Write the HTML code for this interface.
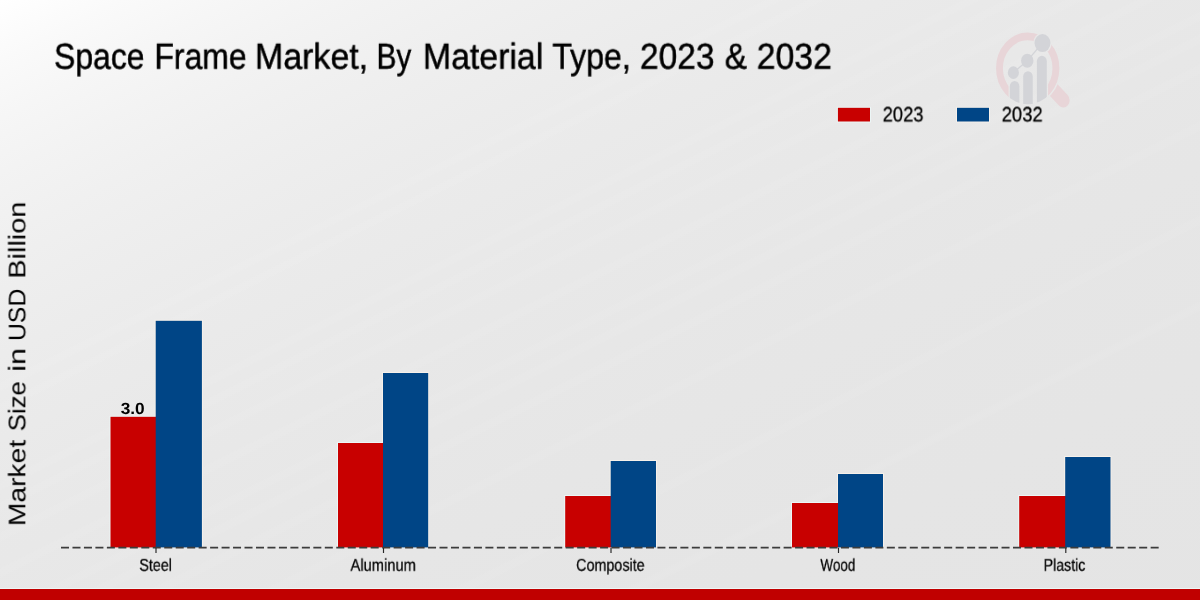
<!DOCTYPE html>
<html lang="en">
<head>
<meta charset="utf-8">
<title>Space Frame Market, By Material Type, 2023 &amp; 2032</title>
<style>
html,body{margin:0;padding:0;}
body{width:1200px;height:600px;overflow:hidden;position:relative;font-family:"Liberation Sans",sans-serif;
background:linear-gradient(to bottom right,rgba(255,255,255,0) 0%,rgba(255,255,255,0) 31.70%,rgba(255,255,255,0.06) 32.10%,rgba(255,255,255,0.06) 32.40%,rgba(255,255,255,0) 32.80%,rgba(255,255,255,0) 33.45%,rgba(255,255,255,0.06) 33.85%,rgba(255,255,255,0.06) 34.15%,rgba(255,255,255,0) 34.55%,rgba(255,255,255,0) 39.95%,rgba(255,255,255,0.06) 40.35%,rgba(255,255,255,0.06) 40.65%,rgba(255,255,255,0) 41.05%,rgba(255,255,255,0) 41.70%,rgba(255,255,255,0.06) 42.10%,rgba(255,255,255,0.06) 42.40%,rgba(255,255,255,0) 42.80%,rgba(255,255,255,0) 44.20%,rgba(255,255,255,0.06) 44.60%,rgba(255,255,255,0.06) 44.90%,rgba(255,255,255,0) 45.30%,rgba(255,255,255,0) 47.20%,rgba(255,255,255,0.06) 47.60%,rgba(255,255,255,0.06) 47.90%,rgba(255,255,255,0) 48.30%,rgba(255,255,255,0) 50.80%,rgba(255,255,255,0.06) 51.20%,rgba(255,255,255,0.06) 51.50%,rgba(255,255,255,0) 51.90%,rgba(255,255,255,0) 52.70%,rgba(255,255,255,0.06) 53.10%,rgba(255,255,255,0.06) 53.40%,rgba(255,255,255,0) 53.80%,rgba(255,255,255,0) 55.20%,rgba(255,255,255,0.06) 55.60%,rgba(255,255,255,0.06) 55.90%,rgba(255,255,255,0) 56.30%,rgba(255,255,255,0) 59.95%,rgba(255,255,255,0.06) 60.35%,rgba(255,255,255,0.06) 60.65%,rgba(255,255,255,0) 61.05%,rgba(255,255,255,0) 67.80%,rgba(255,255,255,0.06) 68.20%,rgba(255,255,255,0.06) 68.50%,rgba(255,255,255,0) 68.90%,rgba(255,255,255,0) 74.95%,rgba(255,255,255,0.06) 75.35%,rgba(255,255,255,0.06) 75.65%,rgba(255,255,255,0) 76.05%,rgba(255,255,255,0) 100%),linear-gradient(to bottom right,rgb(255.0,255.0,255.0) 0%,rgb(252.4,252.4,252.4) 2.5%,rgb(250.0,250.0,250.0) 5%,rgb(247.9,247.9,247.9) 7.5%,rgb(245.9,245.9,245.9) 10%,rgb(244.2,244.2,244.2) 12.5%,rgb(242.6,242.6,242.6) 15%,rgb(239.9,239.9,239.9) 20%,rgb(237.7,237.7,237.7) 25%,rgb(235.9,235.9,235.9) 30%,rgb(234.4,234.4,234.4) 35%,rgb(233.2,233.2,233.2) 40%,rgb(232.3,232.3,232.3) 45%,rgb(231.5,231.5,231.5) 50%,rgb(230.3,230.3,230.3) 60%,rgb(229.5,229.5,229.5) 70%,rgb(229.0,229.0,229.0) 80%,rgb(228.7,228.7,228.7) 90%,rgb(228.4,228.4,228.4) 100%);}
.t{position:absolute;left:0;top:0;white-space:pre;line-height:1;color:#000;transform-origin:0 0;will-change:transform;text-rendering:geometricPrecision;font-family:"Liberation Sans",sans-serif;}
#footline{position:absolute;left:0;top:588px;width:1200px;height:1px;background:#edf6f6;}
#footer{position:absolute;left:0;top:589px;width:1200px;height:11px;background:#c00000;}
svg{position:absolute;left:0;top:0;}
</style>
</head>
<body>
<svg width="1200" height="600" viewBox="0 0 1200 600">
<g id="logo" transform="translate(1027.7,68.35) scale(0.885,1)">
  <defs>
    <clipPath id="lens"><circle cx="0" cy="0" r="35.9"/></clipPath>
    <mask id="hmask" maskUnits="userSpaceOnUse" x="-60" y="-60" width="120" height="120"><rect x="-60" y="-60" width="120" height="120" fill="#fff"/><circle cx="0" cy="0" r="37.4" fill="#000"/></mask>
    <mask id="rmask" maskUnits="userSpaceOnUse" x="-60" y="-60" width="120" height="120"><rect x="-60" y="-60" width="120" height="120" fill="#fff"/><rect x="-21.6" y="10" width="44.6" height="40" fill="#000"/><circle cx="16.7" cy="-25.3" r="10.4" fill="#000"/></mask>
  </defs>
  <circle cx="0" cy="0" r="31.9" fill="none" stroke="#e8d5d8" stroke-width="7.8" mask="url(#rmask)"/>
  <line x1="27" y1="19.5" x2="40.2" y2="32" stroke="#e8d5d8" stroke-width="14.4" stroke-linecap="round" mask="url(#hmask)"/>
  <g clip-path="url(#lens)" fill="#d3d4d8">
    <rect x="-20.2" y="12.6" width="10.8" height="40" rx="5.4"/>
    <rect x="-5.1" y="2.8" width="10.8" height="40" rx="5.4"/>
    <rect x="10.4" y="-12.6" width="11.2" height="60" rx="5.6"/>
  </g>
  <polyline points="-16.2,4.3 -0.5,-7.6 16.7,-25.3" fill="none" stroke="#d3d4d8" stroke-width="1.35"/>
  <g fill="#d3d4d8">
    <circle cx="-16.2" cy="4.3" r="6.3"/>
    <circle cx="-0.5" cy="-7.6" r="7.0"/>
    <circle cx="16.7" cy="-25.3" r="9.0"/>
  </g>
</g>
</svg>
<div class="t" style="font-size:36.2px;font-weight:400;-webkit-text-stroke:0.5px #000;transform:translate(54.01px,38.70px) scale(0.8812,1.0000)">Space</div>
<div class="t" style="font-size:36.2px;font-weight:400;-webkit-text-stroke:0.5px #000;transform:translate(154.45px,38.70px) scale(0.8808,1.0000)">Frame</div>
<div class="t" style="font-size:36.2px;font-weight:400;-webkit-text-stroke:0.5px #000;transform:translate(254.88px,38.70px) scale(0.9389,1.0000)">Market,</div>
<div class="t" style="font-size:36.2px;font-weight:400;-webkit-text-stroke:0.5px #000;transform:translate(376.63px,38.70px) scale(0.8185,1.0000)">By</div>
<div class="t" style="font-size:36.2px;font-weight:400;-webkit-text-stroke:0.5px #000;transform:translate(422.89px,38.70px) scale(0.9349,1.0000)">Material</div>
<div class="t" style="font-size:36.2px;font-weight:400;-webkit-text-stroke:0.5px #000;transform:translate(552.36px,38.70px) scale(0.8854,1.0000)">Type,</div>
<div class="t" style="font-size:36.2px;font-weight:400;-webkit-text-stroke:0.5px #000;transform:translate(639.92px,38.70px) scale(0.9260,1.0000)">2023</div>
<div class="t" style="font-size:36.2px;font-weight:400;-webkit-text-stroke:0.5px #000;transform:translate(724.66px,38.70px) scale(0.9238,1.0000)">&amp;</div>
<div class="t" style="font-size:36.2px;font-weight:400;-webkit-text-stroke:0.5px #000;transform:translate(756.71px,38.70px) scale(0.9330,1.0000)">2032</div>
<div class="t" style="font-size:20.8px;font-weight:400;-webkit-text-stroke:0.3px #000;transform:translate(882.68px,105.40px) scale(0.8803,1.0000)">2023</div>
<div class="t" style="font-size:20.8px;font-weight:400;-webkit-text-stroke:0.3px #000;transform:translate(1001.68px,105.40px) scale(0.8844,1.0000)">2032</div>
<div class="t" style="font-size:24.0px;transform:translate(6.35px,526.16px) rotate(-90deg) scaleX(1.1756)">Market</div>
<div class="t" style="font-size:24.0px;transform:translate(6.35px,431.29px) rotate(-90deg) scaleX(1.0721)">Size</div>
<div class="t" style="font-size:24.0px;transform:translate(6.35px,371.74px) rotate(-90deg) scaleX(1.2760)">in</div>
<div class="t" style="font-size:24.0px;transform:translate(6.35px,340.98px) rotate(-90deg) scaleX(1.0311)">USD</div>
<div class="t" style="font-size:24.0px;transform:translate(6.35px,278.71px) rotate(-90deg) scaleX(1.2054)">Billion</div>
<svg width="1200" height="600" viewBox="0 0 1200 600"><rect x="109.50" y="415.80" width="46.20" height="131.60" fill="#ecf6f6"/>
<rect x="154.70" y="319.80" width="48.20" height="227.60" fill="#f6f0ea"/>
<rect x="337.00" y="442.00" width="46.00" height="105.40" fill="#ecf6f6"/>
<rect x="382.00" y="372.00" width="47.20" height="175.40" fill="#f6f0ea"/>
<rect x="564.20" y="495.00" width="46.50" height="52.40" fill="#ecf6f6"/>
<rect x="609.70" y="460.00" width="47.30" height="87.40" fill="#f6f0ea"/>
<rect x="791.00" y="502.00" width="47.00" height="45.40" fill="#ecf6f6"/>
<rect x="837.00" y="473.00" width="47.00" height="74.40" fill="#f6f0ea"/>
<rect x="1018.20" y="495.00" width="47.00" height="52.40" fill="#ecf6f6"/>
<rect x="1064.20" y="456.00" width="47.30" height="91.40" fill="#f6f0ea"/>
<rect x="110.5" y="416.8" width="46.00" height="130.60" fill="#c80000"/>
<rect x="155.7" y="320.8" width="46.20" height="226.60" fill="#004586"/>
<rect x="338.0" y="443" width="45.80" height="104.40" fill="#c80000"/>
<rect x="383.0" y="373" width="45.20" height="174.40" fill="#004586"/>
<rect x="565.2" y="496" width="46.30" height="51.40" fill="#c80000"/>
<rect x="610.7" y="461" width="45.30" height="86.40" fill="#004586"/>
<rect x="792.0" y="503" width="46.80" height="44.40" fill="#c80000"/>
<rect x="838.0" y="474" width="45.00" height="73.40" fill="#004586"/>
<rect x="1019.2" y="496" width="46.80" height="51.40" fill="#c80000"/>
<rect x="1065.2" y="457" width="45.30" height="90.40" fill="#004586"/>
<rect x="836.9" y="106.8" width="34.1" height="15.7" fill="#ecf6f6"/>
<rect x="956" y="106.8" width="34" height="15.7" fill="#f6f0ea"/>
<rect x="837.9" y="107.8" width="32.1" height="13.7" fill="#c80000"/>
<rect x="957" y="107.8" width="32" height="13.7" fill="#004586"/></svg>
<div class="t" style="font-size:16.2px;font-weight:700;transform:translate(120.65px,401.10px) scale(1.0675,1.0000)">3.0</div>
<svg width="1200" height="600" viewBox="0 0 1200 600">
<line x1="61" y1="547.7" x2="1158.8" y2="547.7" stroke="#3c3c3c" stroke-width="1.7" stroke-dasharray="8.01 3.46"/>
<line x1="156" y1="548" x2="156" y2="553" stroke="#262626" stroke-width="1.15"/><line x1="383.5" y1="548" x2="383.5" y2="553" stroke="#262626" stroke-width="1.15"/><line x1="611" y1="548" x2="611" y2="553" stroke="#262626" stroke-width="1.15"/><line x1="838.5" y1="548" x2="838.5" y2="553" stroke="#262626" stroke-width="1.15"/><line x1="1065.8" y1="548" x2="1065.8" y2="553" stroke="#262626" stroke-width="1.15"/>
</svg>
<div class="t" style="font-size:17.2px;font-weight:400;-webkit-text-stroke:0.25px #000;transform:translate(139.28px,556.80px) scale(0.8344,1.0000)">Steel</div>
<div class="t" style="font-size:17.2px;font-weight:400;-webkit-text-stroke:0.25px #000;transform:translate(350.50px,556.80px) scale(0.8562,1.0000)">Aluminum</div>
<div class="t" style="font-size:17.2px;font-weight:400;-webkit-text-stroke:0.25px #000;transform:translate(576.08px,556.80px) scale(0.8348,1.0000)">Composite</div>
<div class="t" style="font-size:17.2px;font-weight:400;-webkit-text-stroke:0.25px #000;transform:translate(820.37px,556.80px) scale(0.7844,1.0000)">Wood</div>
<div class="t" style="font-size:17.2px;font-weight:400;-webkit-text-stroke:0.25px #000;transform:translate(1043.67px,556.80px) scale(0.8230,1.0000)">Plastic</div>
<div id="footline"></div>
<div id="footer"></div>
</body>
</html>
